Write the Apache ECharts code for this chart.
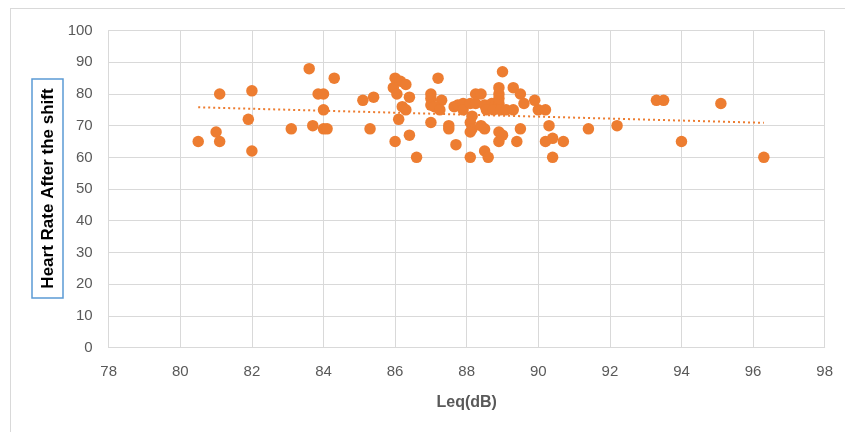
<!DOCTYPE html>
<html>
<head>
<meta charset="utf-8">
<script src="https://cdn.jsdelivr.net/npm/echarts@6/dist/echarts.min.js"></script>
<style>
  html, body { margin: 0; padding: 0; background: #fff; }
  #frame { position: absolute; left: 10px; top: 8px; width: 900px; height: 500px; border: 1px solid #d9d9d9; }
  #chart { position: absolute; left: 0; top: 0; width: 845px; height: 432px; }
</style>
</head>
<body>
<div id="frame"></div>
<div id="chart"></div>
<script>
// Leq(dB) values
const leq = [
  80.5, 81.0, 81.1, 81.1, 81.9, 82.0, 82.0,
  83.1, 83.6, 83.7, 83.85, 84.0, 84.0, 84.0, 84.1, 84.3,
  85.1, 85.4, 85.3,
  86.0, 86.0, 86.15, 86.3, 85.95, 86.05, 86.4, 86.2, 86.3, 86.1, 86.4, 86.6,
  87.2, 87.0, 87.0, 87.3, 87.0, 87.1, 87.25, 87.0, 87.5, 87.5, 87.7,
  87.65, 87.75, 87.9, 87.9, 88.1, 88.25, 88.25, 88.4, 88.15, 88.1, 88.15, 88.4, 88.5, 88.1, 88.5, 88.6, 88.1,
  88.5, 88.7, 88.8, 88.9, 88.55, 88.75, 88.95, 89.1, 89.3,
  88.9, 88.9, 88.9, 89.0, 89.3, 89.5, 89.6, 89.9, 90.0, 90.2,
  88.9, 89.0, 88.9, 89.4, 89.5,
  90.3, 90.2, 90.4, 90.7, 90.4, 91.4, 92.2,
  93.3, 93.5, 94.0, 95.1, 96.3
];
// Heart rate after the shift
const heartRate = [
  65, 68, 65, 80, 72, 81, 62,
  69, 88, 70, 80, 80, 75, 69, 69, 85,
  78, 79, 69,
  65, 85, 84, 83, 82, 80, 79, 76, 75, 72, 67, 60,
  85, 80, 78.6, 78, 76.5, 76, 75, 71, 70, 69, 64,
  76, 76.5, 77, 75, 77, 77, 80, 80, 73, 71, 69, 70, 69, 60, 62, 60, 68,
  76.5, 77, 76.5, 77, 75, 75, 75, 75, 75,
  82, 78.6, 80, 87, 82, 80, 77, 78, 75, 75,
  68, 67, 65, 65, 69,
  70, 65, 66, 65, 60, 69, 70,
  78, 78, 65, 77, 60
];
// Linear trendline endpoints (as drawn)
const trendX = [80.5, 96.3];
const trendY = [75.8, 70.9];
// Axis ticks
const xTicks = [78, 80, 82, 84, 86, 88, 90, 92, 94, 96, 98];
const yTicks = [0, 10, 20, 30, 40, 50, 60, 70, 80, 90, 100];

const points = leq.map((x, i) => [x, heartRate[i]]);
const trend = trendX.map((x, i) => [x, trendY[i]]);

const font = '"Liberation Sans", "DejaVu Sans", sans-serif';
const chart = echarts.init(document.getElementById('chart'), null, { renderer: 'canvas' });
chart.setOption({
  backgroundColor: 'transparent',
  animation: false,
  grid: { left: 108.7, right: 20.3, top: 30.6, bottom: 84.5, containLabel: false },
  xAxis: {
    type: 'value',
    min: xTicks[0], max: xTicks[xTicks.length - 1], interval: 2,
    name: 'Leq(dB)', nameLocation: 'middle', nameGap: 47,
    nameTextStyle: { fontFamily: font, fontSize: 16, fontWeight: 'bold', color: '#595959' },
    axisLine: { show: true, lineStyle: { color: '#d9d9d9', width: 1 } },
    axisTick: { show: false },
    axisLabel: { color: '#595959', fontSize: 15, fontFamily: font, margin: 17 },
    splitLine: { show: true, lineStyle: { color: '#d9d9d9', width: 1 } }
  },
  yAxis: {
    type: 'value',
    min: yTicks[0], max: yTicks[yTicks.length - 1], interval: 10,
    axisLine: { show: true, lineStyle: { color: '#d9d9d9', width: 1 } },
    axisTick: { show: false },
    axisLabel: { color: '#595959', fontSize: 15, fontFamily: font, margin: 16 },
    splitLine: { show: true, lineStyle: { color: '#d9d9d9', width: 1 } }
  },
  graphic: [
    { type: 'rect', shape: { x: 32, y: 79, width: 31, height: 219 },
      style: { fill: '#fff', stroke: '#5B9BD5', lineWidth: 1.5 }, z: 10 },
    { type: 'text', x: 48, y: 188.5, rotation: Math.PI / 2,
      style: { text: 'Heart Rate After the shift', fontFamily: font, fontSize: 17, fontWeight: 'bold',
               fill: '#000', align: 'center', verticalAlign: 'middle' }, z: 11 }
  ],
  series: [
    {
      type: 'scatter',
      data: points,
      symbol: 'circle',
      symbolSize: 11.5,
      itemStyle: { color: '#ED7D31', opacity: 1 },
      z: 3
    },
    {
      type: 'line',
      data: trend,
      symbol: 'none',
      lineStyle: { color: '#ED7D31', width: 2, type: [2, 3] },
      z: 2
    }
  ]
});
</script>
</body>
</html>
